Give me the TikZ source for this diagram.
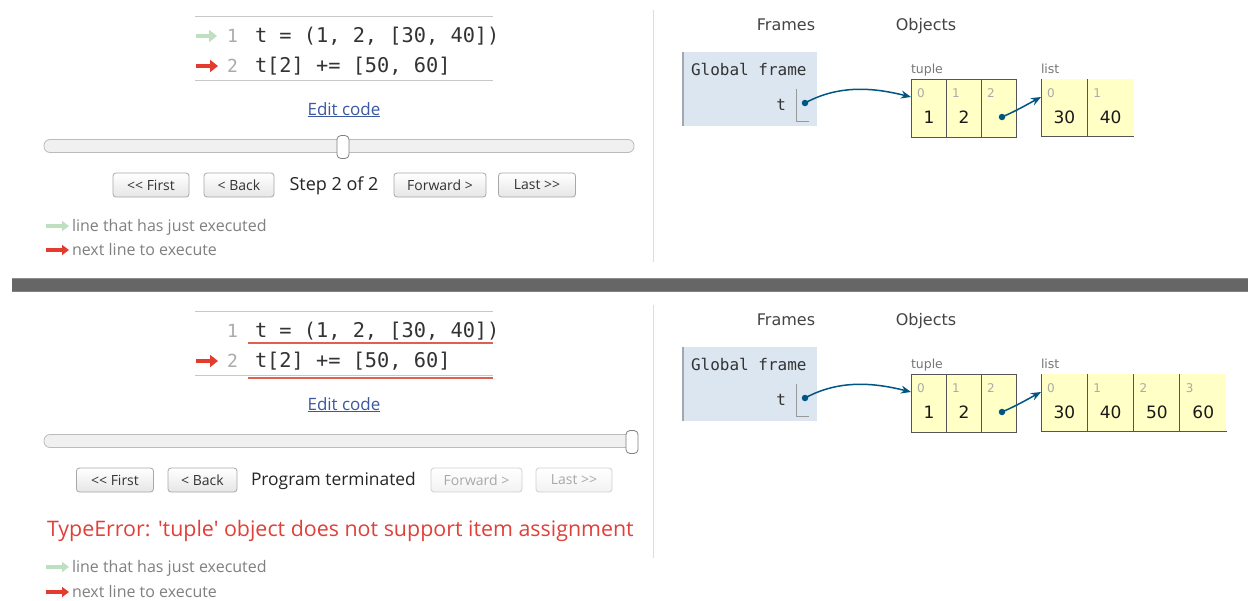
\documentclass[tikz,border=0pt]{standalone}
\usepackage{fontspec}
\usetikzlibrary{arrows.meta}
\newfontfamily\uifont{Open Sans}[Ligatures=TeXOff]
\newfontfamily\vfont{DejaVu Sans}[Ligatures=TeXOff]
\newfontfamily\cfont{DejaVu Sans Mono}
\newcommand\fs[1]{\fontsize{#1}{#1}\selectfont}
\definecolor{codetxt}{HTML}{333333}
\definecolor{lineno}{HTML}{AAAAAA}
\definecolor{rulegray}{HTML}{C8C8C8}
\definecolor{arrgreen}{HTML}{BFE0C0}
\definecolor{arrred}{HTML}{E33B2E}
\definecolor{ulred}{HTML}{E06050}
\definecolor{linkblue}{HTML}{3D58A2}
\definecolor{btnborder}{HTML}{A8A8A8}
\definecolor{btnbot}{HTML}{E6E6E6}
\definecolor{disborder}{HTML}{D0D0D0}
\definecolor{distxt}{HTML}{A8A8A8}
\definecolor{legtxt}{HTML}{808080}
\definecolor{errred}{HTML}{E0403A}
\definecolor{framefill}{HTML}{DCE6F0}
\definecolor{frameedge}{HTML}{A0A8B0}
\definecolor{heapfill}{HTML}{FFFFC6}
\definecolor{heapedge}{HTML}{555555}
\definecolor{ptrc}{HTML}{005583}
\definecolor{idxgray}{HTML}{AAAAAA}
\definecolor{typegray}{HTML}{777777}
\definecolor{headtxt}{HTML}{444444}
\definecolor{sepgray}{HTML}{DDDDDD}
\definecolor{barc}{HTML}{666666}
\definecolor{trackfill}{HTML}{F0F0F0}
\definecolor{trackedge}{HTML}{BBBBBB}
\tikzset{
  txt/.style={inner sep=0pt, outer sep=0pt},
  codetext/.style={txt, anchor=base west, font=\cfont\fs{20.3}, text=codetxt},
  linenum/.style={txt, anchor=base west, font=\cfont\fs{18}, text=lineno},
  codearrow/.style={line width=4.5pt, -{Triangle[length=8pt,width=12pt]}},
  legarrow/.style={line width=3.5pt, -{Triangle[length=7pt,width=10pt]}},
  coderule/.style={draw=rulegray, line width=1pt},
  redrule/.style={draw=ulred, line width=1.5pt},
  linktext/.style={txt, anchor=base, font=\uifont\fs{17}, text=linkblue},
  track/.style={draw=trackedge, fill=trackfill, rounded corners=6pt, minimum width=590pt, minimum height=13pt, inner sep=0pt, line width=0.8pt},
  handle/.style={draw=gray, fill=white, rounded corners=4pt, minimum width=12pt, minimum height=23pt, inner sep=0pt, line width=0.8pt},
  btn/.style={draw=btnborder, rounded corners=3pt, top color=white, bottom color=btnbot, minimum height=24pt, inner sep=0pt, font=\uifont\fs{14}, text=codetxt, line width=0.8pt},
  disbtn/.style={btn, draw=disborder, top color=white, bottom color=white!95!black, text=distxt},
  steptext/.style={txt, anchor=base, font=\uifont\fs{18}, text=black!85},
  termtext/.style={txt, anchor=base west, font=\uifont\fs{17.4}, text=black!85},
  legtext/.style={txt, anchor=base west, font=\uifont\fs{16}, text=legtxt},
  errtext/.style={txt, anchor=base west, font=\uifont\fs{21.4}, text=errred},
  head/.style={txt, anchor=base, font=\vfont\fs{16}, text=headtxt},
  gframe/.style={fill=framefill, minimum width=134pt, minimum height=74pt, inner sep=0pt, anchor=north west},
  gftext/.style={txt, font=\cfont\fs{16}, text=codetxt},
  tcell/.style={draw=heapedge, fill=heapfill, line width=1pt, minimum width=35pt, minimum height=58pt, inner sep=0pt, anchor=north west},
  lcell/.style={fill=heapfill, minimum width=46.3pt, minimum height=57pt, inner sep=0pt, anchor=north west},
  ledge/.style={draw=heapedge, line width=1pt},
  val/.style={txt, anchor=base, font=\vfont\fs{17}, text=black!90},
  idx/.style={txt, anchor=base west, font=\vfont\fs{12}, text=idxgray},
  typelab/.style={txt, anchor=base west, font=\vfont\fs{12.5}, text=typegray},
  dot/.style={circle, fill=ptrc, minimum size=6.5pt, inner sep=0pt},
  ptr/.style={draw=ptrc, line width=1.5pt, -{Stealth[length=10pt,width=8pt]}},
  bracket/.style={draw=gray!80, line width=1pt},
  sep/.style={draw=sepgray, line width=1pt}
}
\begin{document}
\begin{tikzpicture}[x=1pt,y=-1pt]
\useasboundingbox (0,0) rectangle (1248,600);
\fill[white] (0,0) rectangle (1248,600);

% ================= TOP PANEL =================
\draw[coderule] (195,16) -- (493,16);
\draw[coderule] (195,80) -- (493,80);
\coordinate (tga) at (196,36); \coordinate (tgb) at (217,36);
\draw[codearrow, draw=arrgreen, fill=arrgreen] (tga) -- (tgb);
\coordinate (tra) at (196,66); \coordinate (trb) at (218,66);
\draw[codearrow, draw=arrred, fill=arrred] (tra) -- (trb);
\node[linenum] (tn1) at (227,42) {1};
\node[linenum] (tn2) at (227,72) {2};
\node[codetext] (tc1) at (255,42) {t = (1, 2, [30, 40])};
\node[codetext] (tc2) at (255,72) {t[2] += [50, 60]};
\node[linktext] (tedit) at (344,115) {\underline{Edit code}};

\node[track] (ttrack) at (339,146) {};
\node[handle] (thandle) at (343,147) {};

\node[btn, minimum width=76pt] (tfirst) at (151,185) {<\kern0pt< First};
\node[btn, minimum width=70pt] (tback) at (239,185) {< Back};
\node[steptext] (tstep) at (334,190.5) {Step 2 of 2};
\node[btn, minimum width=92pt] (tfwd) at (440,185) {Forward >};
\node[btn, minimum width=77pt] (tlast) at (537,185) {Last >\kern0pt>};

\coordinate (tlga) at (46,226); \coordinate (tlgb) at (69,226);
\draw[legarrow, draw=arrgreen, fill=arrgreen] (tlga) -- (tlgb);
\node[legtext] (tleg1) at (72,231) {line that has just executed};
\coordinate (tlra) at (46,250); \coordinate (tlrb) at (69,250);
\draw[legarrow, draw=arrred, fill=arrred] (tlra) -- (tlrb);
\node[legtext] (tleg2) at (72,255) {next line to execute};

\draw[sep] (653,10) -- (653,262);

\node[head] (tframes) at (786,30) {Frames};
\node[head] (tobjects) at (926,30) {Objects};
\node[gframe] (tgf) at (683,52) {};
\draw[frameedge, line width=1.2pt] (tgf.north west) -- (tgf.south west);
\node[gftext, anchor=base west] (tgft) at (691,75) {Global frame};
\node[gftext, anchor=base east] (tvar) at (786,110) {t};
\coordinate (tbr1) at (796,89); \coordinate (tbr2) at (796,121); \coordinate (tbr3) at (809,121);
\draw[bracket] (tbr1) -- (tbr2) -- (tbr3);

\node[typelab] (ttl) at (911,73) {tuple};
\node[tcell] (tt0) at (911,79) {};
\node[tcell] (tt1) at (946,79) {};
\node[tcell] (tt2) at (981,79) {};
\node[idx] at ([xshift=6pt,yshift=-18pt]tt0.north west) {0};
\node[idx] at ([xshift=6pt,yshift=-18pt]tt1.north west) {1};
\node[idx] at ([xshift=6pt,yshift=-18pt]tt2.north west) {2};
\node[val] (ttv0) at ([yshift=-44pt]tt0.north) {1};
\node[val] (ttv1) at ([yshift=-44pt]tt1.north) {2};

\node[typelab] (tll) at (1041,73) {list};
\node[lcell] (tl0) at (1041,79) {};
\node[lcell] (tl1) at (1087.3,79) {};
\foreach \c in {tl0,tl1} {\draw[ledge] (\c.north west) -- (\c.south west) -- (\c.south east);}
\node[idx] at ([xshift=6pt,yshift=-18pt]tl0.north west) {0};
\node[idx] at ([xshift=6pt,yshift=-18pt]tl1.north west) {1};
\node[val] (tlv0) at ([yshift=-44pt]tl0.north) {30};
\node[val] (tlv1) at ([yshift=-44pt]tl1.north) {40};

\node[dot] (tdot) at (805,103) {};
\node[dot] (tdot2) at (1002,117) {};
\draw[ptr] (tdot.center) .. controls (840,84) and (875,88) .. ([yshift=-18pt]tt0.north west);
\draw[ptr] (tdot2.center) .. controls (1016,111) and (1028,104) .. ([yshift=-18pt]tl0.north west);

% ================= DIVIDER =================
\fill[barc] (12,278) rectangle (1248,292);
\draw[black!45, line width=1pt] (12,278.5) -- (1248,278.5);
\draw[black!50, line width=1pt] (12,291.5) -- (1248,291.5);

% ================= BOTTOM PANEL =================
\draw[coderule] (195,311) -- (493,311);
\draw[coderule] (195,375) -- (493,375);
\draw[redrule] (248,343) -- (493,343);
\draw[redrule] (248,378) -- (493,378);
\coordinate (bra) at (196,361); \coordinate (brb) at (218,361);
\draw[codearrow, draw=arrred, fill=arrred] (bra) -- (brb);
\node[linenum] (bn1) at (227,337) {1};
\node[linenum] (bn2) at (227,367) {2};
\node[codetext] (bc1) at (255,337) {t = (1, 2, [30, 40])};
\node[codetext] (bc2) at (255,367) {t[2] += [50, 60]};
\node[linktext] (bedit) at (344,410) {\underline{Edit code}};

\node[track] (btrack) at (339,441) {};
\node[handle] (bhandle) at (632,442) {};

\node[btn, minimum width=77pt] (bfirst) at (115,480) {<\kern0pt< First};
\node[btn, minimum width=69pt] (bback) at (202.5,480) {< Back};
\node[termtext] (bstep) at (251,485.5) {Program terminated};
\node[disbtn, minimum width=91pt] (bfwd) at (476.5,480) {Forward >};
\node[disbtn, minimum width=76pt] (blast) at (574,480) {Last >\kern0pt>};

\node[errtext] (berr) at (47,536) {TypeError: 'tuple' object does not support item assignment};

\coordinate (blga) at (46,567); \coordinate (blgb) at (69,567);
\draw[legarrow, draw=arrgreen, fill=arrgreen] (blga) -- (blgb);
\node[legtext] (bleg1) at (72,572) {line that has just executed};
\coordinate (blra) at (46,592); \coordinate (blrb) at (69,592);
\draw[legarrow, draw=arrred, fill=arrred] (blra) -- (blrb);
\node[legtext] (bleg2) at (72,597) {next line to execute};

\draw[sep] (653,305) -- (653,558);

\node[head] (bframes) at (786,325) {Frames};
\node[head] (bobjects) at (926,325) {Objects};
\node[gframe] (bgf) at (683,347) {};
\draw[frameedge, line width=1.2pt] (bgf.north west) -- (bgf.south west);
\node[gftext, anchor=base west] (bgft) at (691,370) {Global frame};
\node[gftext, anchor=base east] (bvar) at (786,405) {t};
\coordinate (bbr1) at (796,384); \coordinate (bbr2) at (796,416); \coordinate (bbr3) at (809,416);
\draw[bracket] (bbr1) -- (bbr2) -- (bbr3);

\node[typelab] (btl) at (911,368) {tuple};
\node[tcell] (bt0) at (911,374) {};
\node[tcell] (bt1) at (946,374) {};
\node[tcell] (bt2) at (981,374) {};
\node[idx] at ([xshift=6pt,yshift=-18pt]bt0.north west) {0};
\node[idx] at ([xshift=6pt,yshift=-18pt]bt1.north west) {1};
\node[idx] at ([xshift=6pt,yshift=-18pt]bt2.north west) {2};
\node[val] (btv0) at ([yshift=-44pt]bt0.north) {1};
\node[val] (btv1) at ([yshift=-44pt]bt1.north) {2};

\node[typelab] (bll) at (1041,368) {list};
\node[lcell] (bl0) at (1041,374) {};
\node[lcell] (bl1) at (1087.3,374) {};
\node[lcell] (bl2) at (1133.6,374) {};
\node[lcell] (bl3) at (1179.9,374) {};
\foreach \c in {bl0,bl1,bl2,bl3} {\draw[ledge] (\c.north west) -- (\c.south west) -- (\c.south east);}
\node[idx] at ([xshift=6pt,yshift=-18pt]bl0.north west) {0};
\node[idx] at ([xshift=6pt,yshift=-18pt]bl1.north west) {1};
\node[idx] at ([xshift=6pt,yshift=-18pt]bl2.north west) {2};
\node[idx] at ([xshift=6pt,yshift=-18pt]bl3.north west) {3};
\node[val] (blv0) at ([yshift=-44pt]bl0.north) {30};
\node[val] (blv1) at ([yshift=-44pt]bl1.north) {40};
\node[val] (blv2) at ([yshift=-44pt]bl2.north) {50};
\node[val] (blv3) at ([yshift=-44pt]bl3.north) {60};

\node[dot] (bdot) at (805,398) {};
\node[dot] (bdot2) at (1002,412) {};
\draw[ptr] (bdot.center) .. controls (840,379) and (875,383) .. ([yshift=-18pt]bt0.north west);
\draw[ptr] (bdot2.center) .. controls (1016,406) and (1028,399) .. ([yshift=-18pt]bl0.north west);
\end{tikzpicture}
\end{document}
